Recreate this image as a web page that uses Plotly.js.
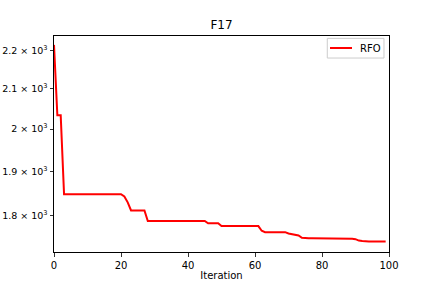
<!DOCTYPE html>
<html><head><meta charset="utf-8">
<script src="https://cdn.plot.ly/plotly-3.0.1.min.js"></script>
<style>html,body{margin:0;padding:0;background:#fff}#c{width:432px;height:288px}</style>
</head><body><div id="c"></div>
<script>
const seriesName = 'RFO';
const iterations = Array.from({length:100},(_,i)=>i);
const rfo = [
 2215,2034,2034,1848,1848,1848,1848,1848,1848,1848,
 1848,1848,1848,1848,1848,1848,1848,1848,1848,1848,
 1848,1843,1830,1812,1812,1812,1812,1812,1789,1789,
 1789,1789,1789,1789,1789,1789,1789,1789,1789,1789,
 1789,1789,1789,1789,1789,1789,1784,1784,1784,1784,
 1778,1778,1778,1778,1778,1778,1778,1778,1778,1778,
 1778,1778,1768,1765,1765,1765,1765,1765,1765,1765,
 1762,1761,1759,1758,1753,1752,1752,1752,1752,1752,
 1752,1752,1752,1752,1752,1751,1751,1751,1751,1751,
 1750,1747,1746,1745,1745,1745,1745,1745,1745,1745
];
const yTickVals = [1800,1900,2000,2100,2200];
const yTickText = ['1.8 × 10<sup>3</sup>','1.9 × 10<sup>3</sup>','2 × 10<sup>3</sup>','2.1 × 10<sup>3</sup>','2.2 × 10<sup>3</sup>'];
const xTickVals = [0,20,40,60,80,100];

Plotly.newPlot('c',[{
  x: iterations, y: rfo, type:'scatter', mode:'lines', name:seriesName,
  line:{color:'#ff0000', width:2}
}],{
  width:432, height:288,
  margin:{l:54, r:43, t:36, b:36},
  paper_bgcolor:'#fff', plot_bgcolor:'#fff',
  font:{family:'DejaVu Sans', size:10, color:'#000'},
  title:{text:'F17', font:{size:12}, x:0.5, xref:'paper', y:0.915, yref:'container', yanchor:'middle'},
  showlegend:false,
  shapes:[
    {type:'rect', xref:'paper', yref:'paper', x0:0.8158, x1:0.985, y0:0.898, y1:0.989,
     line:{color:'#cccccc', width:1}, fillcolor:'rgba(255,255,255,0.8)'},
    {type:'line', xref:'paper', yref:'paper', x0:0.8239, x1:0.8896, y0:0.9444, y1:0.9444,
     line:{color:'#ff0000', width:2}}
  ],
  annotations:[
    {text:seriesName, xref:'paper', yref:'paper', x:0.906, y:0.9444, xanchor:'left', yanchor:'middle',
     showarrow:false, font:{size:10}}
  ],
  xaxis:{range:[0,100], tickvals:xTickVals, ticks:'outside', ticklen:3.5, tickwidth:0.8, tickcolor:'#000',
    showline:true, linecolor:'#000', linewidth:1, mirror:true, showgrid:false, zeroline:false,
    title:{text:'Iteration', standoff:2, font:{size:10}}, automargin:false},
  yaxis:{type:'log', range:[Math.log10(1723), Math.log10(2239)], tickvals:yTickVals, ticktext:yTickText,
    ticks:'outside', ticklen:3.5, tickwidth:0.8, tickcolor:'#000', tickfont:{size:9.5},
    showline:true, linecolor:'#000', linewidth:1, mirror:true, showgrid:false, zeroline:false, automargin:false}
},{displayModeBar:false, staticPlot:true});
</script></body></html>
